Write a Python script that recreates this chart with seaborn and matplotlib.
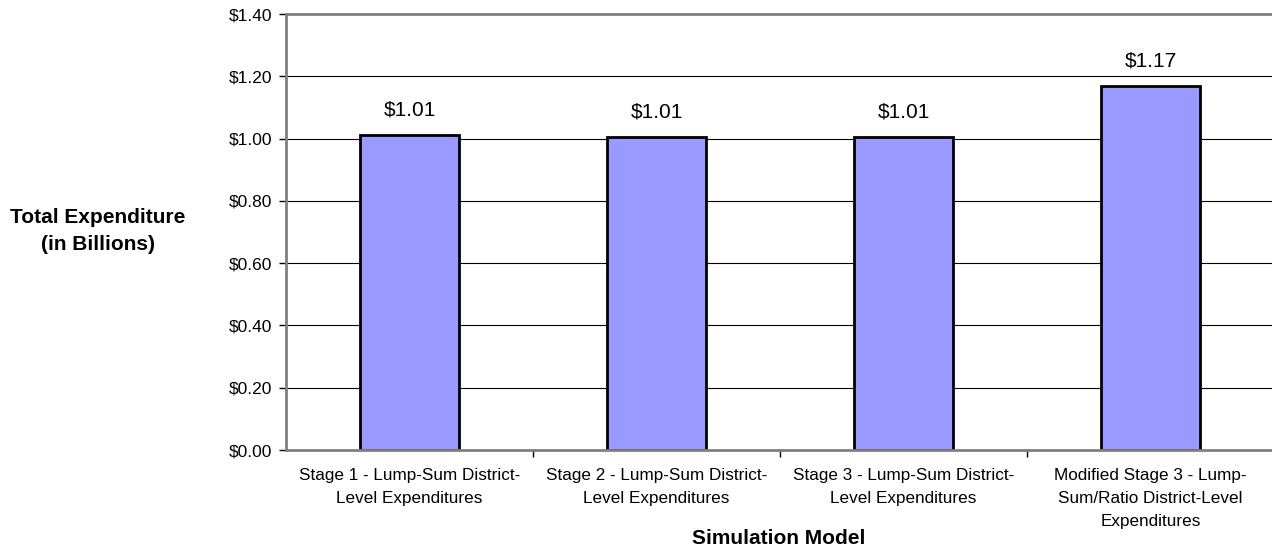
import matplotlib
matplotlib.use("Agg")
import matplotlib.pyplot as plt
import seaborn as sns
import pandas as pd
from matplotlib.ticker import FuncFormatter

categories = [
    "Stage 1 - Lump-Sum District-\nLevel Expenditures",
    "Stage 2 - Lump-Sum District-\nLevel Expenditures",
    "Stage 3 - Lump-Sum District-\nLevel Expenditures",
    "Modified Stage 3 - Lump-\nSum/Ratio District-Level\nExpenditures",
]
values = [1.01, 1.005, 1.005, 1.17]
value_labels = ["$1.01", "$1.01", "$1.01", "$1.17"]
yticks = [0.0, 0.2, 0.4, 0.6, 0.8, 1.0, 1.2, 1.4]

sns.set_style("white")
plt.rcParams["font.family"] = ["Liberation Sans", "DejaVu Sans"]
plt.rcParams["text.color"] = "black"
plt.rcParams["xtick.color"] = "black"
plt.rcParams["ytick.color"] = "black"
plt.rcParams["axes.labelcolor"] = "black"

df = pd.DataFrame({"cat": categories, "val": values})

fig = plt.figure(figsize=(12.72, 5.52), dpi=100)
ax = fig.add_axes([286/1272, 1-450/552, (1274-286)/1272, (450-14)/552])

for y in yticks[1:-1]:
    ax.axhline(y, color="black", lw=0.8, zorder=0)

sns.barplot(data=df, x="cat", y="val", color="#9999FF", saturation=1,
            width=0.4, edgecolor="black", linewidth=2, ax=ax, zorder=2)

for i, (v, t) in enumerate(zip(values, value_labels)):
    ax.text(i, v + 0.05, t, ha="center", va="bottom", fontsize=15)

ax.set_ylim(0, 1.4)
ax.set_xlim(-0.5, 3.5)
ax.set_yticks(yticks)
ax.yaxis.set_major_formatter(FuncFormatter(lambda v, p: f"${v:.2f}"))
ax.tick_params(axis="y", labelsize=12.5, length=5, width=1, color="black", left=True, pad=5)
ax.set_xticks([0.5, 1.5, 2.5], minor=True)
ax.tick_params(axis="x", which="major", length=0, labelsize=12.3, pad=13)
ax.tick_params(axis="x", which="minor", length=5, width=1, color="black", bottom=True)
ax.set_xticks(range(4))
ax.set_xticklabels(categories, linespacing=1.65)

for s in ["left", "bottom", "top"]:
    ax.spines[s].set_color("#808080")
    ax.spines[s].set_linewidth(2)
ax.spines["right"].set_visible(False)

ax.set_xlabel("")
ax.set_ylabel("")
fig.text(779/1272, 1-539/552, "Simulation Model", ha="center", va="center",
         fontsize=15, fontweight="bold")
fig.text(98/1272, 1-231/552, "Total Expenditure\n(in Billions)", ha="center", va="center",
         fontsize=15, fontweight="bold", linespacing=1.5)

fig.savefig("out.png", dpi=100)
